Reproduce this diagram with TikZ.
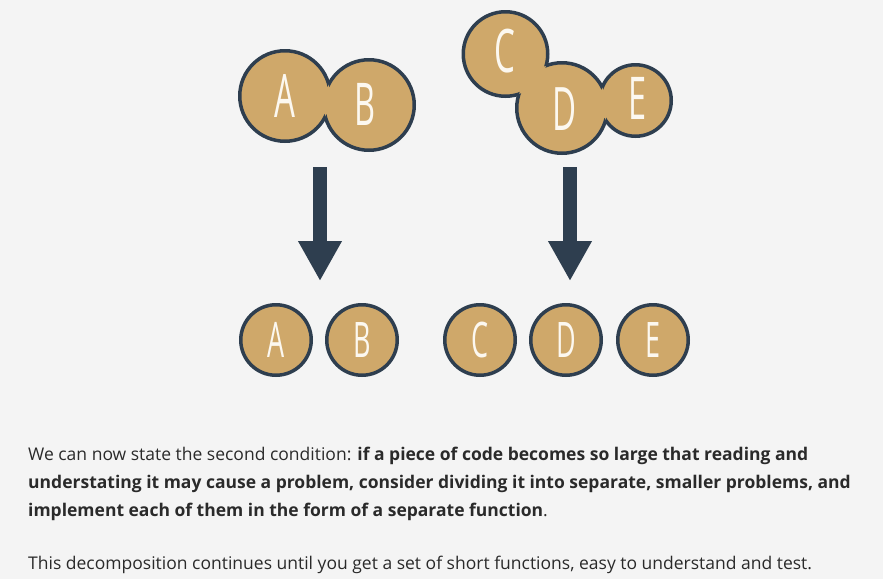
\documentclass[tikz,border=0pt]{standalone}
\usepackage{fontspec}
\setmainfont{Open Sans}
\newfontfamily\letterfont[FakeStretch=0.55]{Open Sans}
\usetikzlibrary{arrows.meta}
\definecolor{bg}{HTML}{F4F4F4}
\definecolor{ballfill}{HTML}{CFA86A}
\definecolor{ballline}{HTML}{2E3E4F}
\definecolor{txt}{HTML}{2A2A2A}
\definecolor{lett}{HTML}{FCF8F0}
\tikzset{
  strokepen/.style={draw=ballline, line width=3.5pt},
  fillpen/.style={fill=ballfill},
  single/.style={circle, inner sep=0pt, draw=ballline, line width=3.5pt, fill=ballfill, minimum size=70.5pt},
  letter/.style={text=lett, font=\letterfont\fontsize{#1}{#1}\selectfont, inner sep=0pt},
  bigarrow/.style={draw=ballline, line width=14pt, -{Triangle[width=41pt,length=40pt]}},
  para/.style={anchor=base west, inner sep=0pt, text=txt, font=\fontsize{17.5}{28}\selectfont}
}
\begin{document}
\begin{tikzpicture}[x=1pt,y=-1pt]
\fill[bg] (0,0) rectangle (883,579);
\useasboundingbox (0,0) rectangle (883,579);
% centres of the merged circles
\coordinate (cA) at (285,96);
\coordinate (cB) at (369,105);
\coordinate (cC) at (505.5,54);
\coordinate (cD) at (562,108);
\coordinate (cE) at (635.5,100.5);
\def\rA{45.25pt}\def\rB{45.25pt}\def\rC{42.25pt}\def\rD{45.25pt}\def\rE{35.75pt}
% group A-B: gold union, then each outline outside the other circle
\fill[fillpen] (cA) circle[radius=\rA] (cB) circle[radius=\rB];
\begin{scope}[even odd rule]
  \clip (200,0) rectangle (450,200) (cB) circle[radius=\rB];
  \draw[strokepen] (cA) circle[radius=\rA];
\end{scope}
\begin{scope}[even odd rule]
  \clip (200,0) rectangle (450,200) (cA) circle[radius=\rA];
  \draw[strokepen] (cB) circle[radius=\rB];
\end{scope}
% group C-D-E
\fill[fillpen] (cC) circle[radius=\rC] (cD) circle[radius=\rD] (cE) circle[radius=\rE];
\begin{scope}[even odd rule]
  \clip (440,0) rectangle (700,200) (cD) circle[radius=\rD];
  \clip (440,0) rectangle (700,200) (cE) circle[radius=\rE];
  \draw[strokepen] (cC) circle[radius=\rC];
\end{scope}
\begin{scope}[even odd rule]
  \clip (440,0) rectangle (700,200) (cC) circle[radius=\rC];
  \clip (440,0) rectangle (700,200) (cE) circle[radius=\rE];
  \draw[strokepen] (cD) circle[radius=\rD];
\end{scope}
\begin{scope}[even odd rule]
  \clip (440,0) rectangle (700,200) (cC) circle[radius=\rC];
  \clip (440,0) rectangle (700,200) (cD) circle[radius=\rD];
  \draw[strokepen] (cE) circle[radius=\rE];
\end{scope}
\node[letter=60] (tA) at (284.5,95.5) {A};
\node[letter=59] (tB) at (365,104) {B};
\node[letter=60] (tC) at (505,51.5) {C};
\node[letter=60] (tD) at (565,109.5) {D};
\node[letter=59] (tE) at (638,98) {E};
% arrows
\coordinate (a1s) at (320,167);
\coordinate (a1e) at (320,281);
\coordinate (a2s) at (570,167);
\coordinate (a2e) at (570,281);
\draw[bigarrow] (a1s) -- (a1e);
\draw[bigarrow] (a2s) -- (a2e);
% bottom row
\node[single] (bA) at (276,340) {};
\node[single] (bB) at (362,340) {};
\node[single] (bC) at (480,340) {};
\node[single] (bD) at (566,340) {};
\node[single] (bE) at (653,340) {};
\foreach \n/\l in {bA/A,bB/B,bC/C,bD/D,bE/E}{\node[letter=49] (l\n) at (\n) {\l};}
% text
\node[para] (l1) at (28,460) {We can now state the second condition: \textbf{if a piece of code becomes so large that reading and}};
\node[para] (l2) at (28,488) {\textbf{understating it may cause a problem, consider dividing it into separate, smaller problems, and}};
\node[para] (l3) at (28,516) {\textbf{implement each of them in the form of a separate function}.};
\node[para] (l4) at (28,569) {This decomposition continues until you get a set of short functions, easy to understand and test.};
\end{tikzpicture}
\end{document}
